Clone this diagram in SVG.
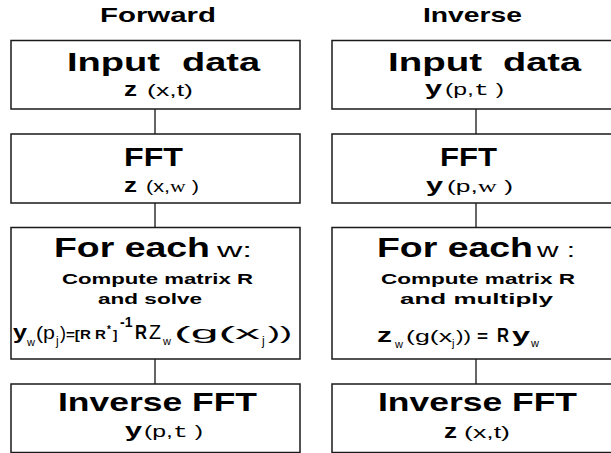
<svg xmlns="http://www.w3.org/2000/svg" width="611" height="453" viewBox="0 0 611 453">
<style>
.box{fill:#fff;stroke:#1a1a1a;stroke-width:1.5}
.con{stroke:#333;stroke-width:1.5;fill:none}
text{font-family:"Liberation Sans",Arial,sans-serif;fill:#000}
.b{font-weight:bold}
.hd{font-size:21px;font-weight:bold}
.t1{font-size:25px;font-weight:bold}
.t2{font-size:15px;font-weight:bold}
.v{font-size:20px;font-weight:bold}
.a{font-size:17px}
.m{font-family:"Liberation Mono",monospace}
.s{font-family:"Liberation Serif",serif}
.sub{font-size:11px}
</style>
<rect width="611" height="453" fill="#fff"/>
<text class="hd" x="100" y="22" textLength="116" lengthAdjust="spacingAndGlyphs">Forward</text>
<text class="hd" x="423" y="22" textLength="99" lengthAdjust="spacingAndGlyphs">Inverse</text>
<g id="connectors">
<line class="con" x1="155" y1="109" x2="155" y2="134"/>
<line class="con" x1="155" y1="203" x2="155" y2="227.5"/>
<line class="con" x1="155" y1="359" x2="155" y2="384"/>
<line class="con" x1="476" y1="109" x2="476" y2="134"/>
<line class="con" x1="476" y1="203" x2="476" y2="227.5"/>
<line class="con" x1="476" y1="359" x2="476" y2="384"/>
</g>
<g id="f-input">
<rect class="box" x="11" y="40.5" width="289" height="68.5"/>
<text class="t1" x="67" y="71" textLength="93" lengthAdjust="spacingAndGlyphs">Input</text>
<text class="t1" x="182" y="71" textLength="78" lengthAdjust="spacingAndGlyphs">data</text>
<text class="v" x="124" y="96" textLength="13" lengthAdjust="spacingAndGlyphs">z</text>
<text class="a" x="147" y="96" textLength="46" lengthAdjust="spacingAndGlyphs">(x,t)</text>
</g>
<g id="f-fft">
<rect class="box" x="11" y="134" width="289" height="69"/>
<text class="t1" x="124" y="166" textLength="59" lengthAdjust="spacingAndGlyphs">FFT</text>
<text class="v" x="124" y="192" textLength="13" lengthAdjust="spacingAndGlyphs">z</text>
<text class="a" x="146" y="192" textLength="53" lengthAdjust="spacingAndGlyphs">(x,<tspan class="s">w</tspan> )</text>
</g>
<g id="f-each">
<rect class="box" x="11" y="227.5" width="289" height="131.5"/>
<text class="b" font-size="27" x="54" y="257" textLength="156" lengthAdjust="spacingAndGlyphs">For each</text>
<text font-size="20" x="217" y="257" textLength="35" lengthAdjust="spacingAndGlyphs">w:</text>
<text class="t2" x="62" y="284" textLength="191" lengthAdjust="spacingAndGlyphs">Compute matrix R</text>
<text class="t2" x="98" y="304" textLength="104" lengthAdjust="spacingAndGlyphs">and solve</text>
<text class="v" x="13" y="339" textLength="14" lengthAdjust="spacingAndGlyphs">y</text>
<text class="sub" x="27" y="346">w</text>
<text font-size="18" x="36" y="339" textLength="19" lengthAdjust="spacingAndGlyphs">(p</text>
<text font-size="12" x="56" y="345">j</text>
<text font-size="18" x="60" y="339">)</text>
<text class="b" font-size="13" x="66" y="339" textLength="40" lengthAdjust="spacingAndGlyphs">=[R R</text>
<text class="b" font-size="10" x="107" y="333">*</text>
<text class="b" font-size="13" x="113" y="339">]</text>
<text class="b" font-size="14" x="120" y="327">-1</text>
<text class="v" x="135" y="339" textLength="12" lengthAdjust="spacingAndGlyphs">R</text>
<text font-size="20" x="149" y="339" textLength="12" lengthAdjust="spacingAndGlyphs">Z</text>
<text class="sub" x="163" y="345">w</text>
<text font-size="18" x="174" y="339" textLength="86" lengthAdjust="spacingAndGlyphs">(g(x</text>
<text font-size="12" x="262" y="345">j</text>
<text font-size="18" x="268" y="339" textLength="24" lengthAdjust="spacingAndGlyphs">))</text>
</g>
<g id="f-ifft">
<rect class="box" x="11" y="384" width="289" height="68.5"/>
<text class="t1" x="58" y="411" textLength="199" lengthAdjust="spacingAndGlyphs">Inverse FFT</text>
<text class="v" x="125" y="437" textLength="17" lengthAdjust="spacingAndGlyphs">y</text>
<text class="a" x="144" y="437" textLength="59" lengthAdjust="spacingAndGlyphs">(p,<tspan class="m">t</tspan> )</text>
</g>
<g id="i-input">
<rect class="box" x="332" y="40.5" width="290" height="68.5"/>
<text class="t1" x="388" y="71" textLength="94" lengthAdjust="spacingAndGlyphs">Input</text>
<text class="t1" x="503" y="71" textLength="78" lengthAdjust="spacingAndGlyphs">data</text>
<text class="v" x="425" y="95" textLength="17" lengthAdjust="spacingAndGlyphs">y</text>
<text class="a" x="445" y="95" textLength="59" lengthAdjust="spacingAndGlyphs">(p,<tspan class="m">t</tspan> )</text>
</g>
<g id="i-fft">
<rect class="box" x="332" y="134" width="290" height="69"/>
<text class="t1" x="440" y="166" textLength="57" lengthAdjust="spacingAndGlyphs">FFT</text>
<text class="v" x="426" y="192" textLength="17" lengthAdjust="spacingAndGlyphs">y</text>
<text class="a" x="447" y="192" textLength="66" lengthAdjust="spacingAndGlyphs">(p,<tspan class="s">w</tspan> )</text>
</g>
<g id="i-each">
<rect class="box" x="332" y="227.5" width="290" height="131.5"/>
<text class="b" font-size="27" x="377" y="257" textLength="156" lengthAdjust="spacingAndGlyphs">For each</text>
<text font-size="20" x="537" y="257" textLength="38" lengthAdjust="spacingAndGlyphs">w :</text>
<text class="t2" x="381" y="284" textLength="194" lengthAdjust="spacingAndGlyphs">Compute matrix R</text>
<text class="t2" x="400" y="304" textLength="153" lengthAdjust="spacingAndGlyphs">and multiply</text>
<text class="v" font-size="22" x="377" y="342" textLength="15" lengthAdjust="spacingAndGlyphs">z</text>
<text class="sub" x="395" y="348">w</text>
<text font-size="17" x="406" y="342" textLength="46" lengthAdjust="spacingAndGlyphs">(g(x</text>
<text font-size="11" x="452" y="347">j</text>
<text font-size="17" x="456" y="342" textLength="15" lengthAdjust="spacingAndGlyphs">))</text>
<text class="b" font-size="16" x="477" y="342" textLength="11" lengthAdjust="spacingAndGlyphs">=</text>
<text class="v" font-size="18" x="497" y="342" textLength="12" lengthAdjust="spacingAndGlyphs">R</text>
<text class="v" x="512" y="342" textLength="18" lengthAdjust="spacingAndGlyphs">y</text>
<text class="sub" x="531" y="347">w</text>
</g>
<g id="i-ifft">
<rect class="box" x="332" y="384" width="290" height="68.5"/>
<text class="t1" x="378" y="411" textLength="199" lengthAdjust="spacingAndGlyphs">Inverse FFT</text>
<text class="v" x="444" y="438" textLength="13" lengthAdjust="spacingAndGlyphs">z</text>
<text class="a" x="464" y="438" textLength="46" lengthAdjust="spacingAndGlyphs">(x,t)</text>
</g>
</svg>
